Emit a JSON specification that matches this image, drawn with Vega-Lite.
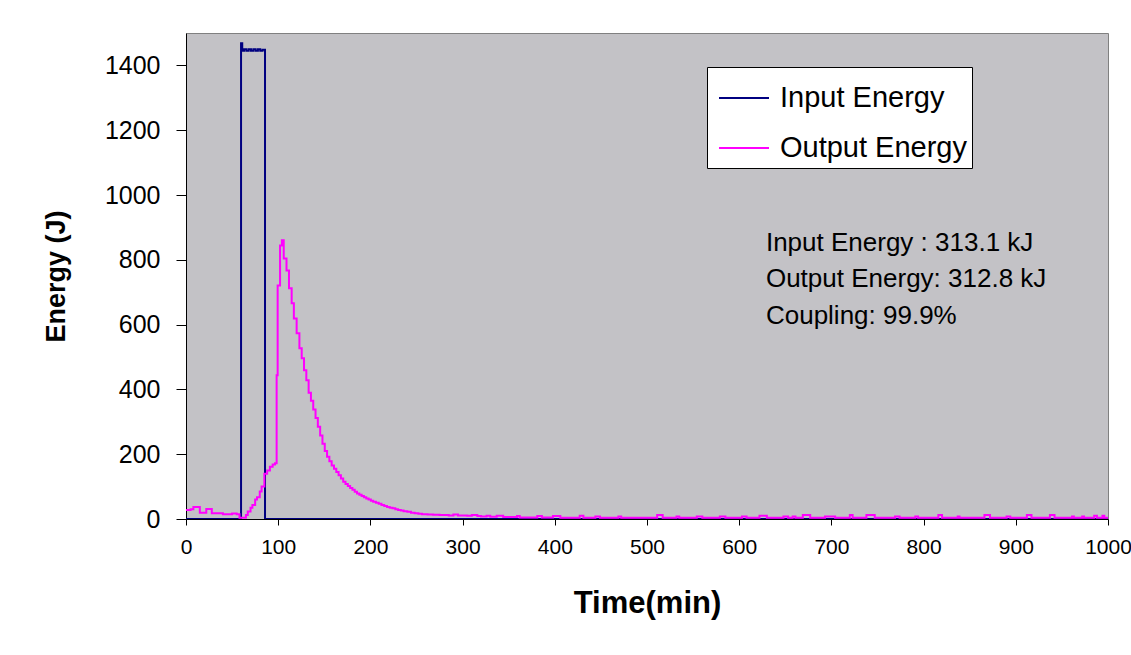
{
  "$schema": "https://vega.github.io/schema/vega-lite/v6.json",
  "width": 922,
  "height": 486,
  "autosize": {"type": "none"},
  "padding": {"left": 186, "top": 33, "right": 23, "bottom": 136},
  "background": "white",
  "config": {
    "view": {"fill": "#C3C2C6", "stroke": "#808080", "strokeWidth": 1},
    "font": "Liberation Sans"
  },
  "datasets": {
    "input": [
      {"t": 0, "e": 0}, {"t": 59.7, "e": 1468}, {"t": 61, "e": 1445}, {"t": 63, "e": 1450},
      {"t": 65.5, "e": 1445}, {"t": 68, "e": 1450}, {"t": 70.5, "e": 1445}, {"t": 73, "e": 1450},
      {"t": 75.5, "e": 1445}, {"t": 78, "e": 1450}, {"t": 80.5, "e": 1445}, {"t": 83, "e": 1448},
      {"t": 85.7, "e": 0}, {"t": 1000, "e": 0}
    ],
    "output": [
      {"t": 0, "e": 28}, {"t": 5, "e": 30}, {"t": 8, "e": 37}, {"t": 13, "e": 37}, {"t": 15, "e": 19},
      {"t": 20, "e": 19}, {"t": 22, "e": 31}, {"t": 26, "e": 31}, {"t": 28, "e": 18}, {"t": 35, "e": 18},
      {"t": 40, "e": 15}, {"t": 45, "e": 15}, {"t": 50, "e": 17}, {"t": 55, "e": 15}, {"t": 58, "e": 4},
      {"t": 62, "e": 4}, {"t": 65, "e": 12}, {"t": 67, "e": 23}, {"t": 70, "e": 35}, {"t": 72, "e": 43},
      {"t": 75, "e": 60}, {"t": 77, "e": 67}, {"t": 80, "e": 85}, {"t": 82, "e": 100}, {"t": 85, "e": 140},
      {"t": 88, "e": 150}, {"t": 91, "e": 161}, {"t": 94, "e": 168}, {"t": 96.5, "e": 172}, {"t": 98.3, "e": 444},
      {"t": 99.4, "e": 721}, {"t": 102, "e": 844}, {"t": 104, "e": 860}, {"t": 106, "e": 804}, {"t": 109, "e": 767},
      {"t": 111.7, "e": 712}, {"t": 114.6, "e": 666}, {"t": 117, "e": 619}, {"t": 120, "e": 573}, {"t": 123, "e": 527},
      {"t": 125.5, "e": 496}, {"t": 128, "e": 459}, {"t": 130.5, "e": 428}, {"t": 133, "e": 390}, {"t": 135.5, "e": 365},
      {"t": 138, "e": 338}, {"t": 140.5, "e": 312}, {"t": 143, "e": 285}, {"t": 145.5, "e": 258}, {"t": 148, "e": 232},
      {"t": 150.5, "e": 210}, {"t": 153, "e": 192}, {"t": 155.5, "e": 178}, {"t": 158, "e": 165}, {"t": 160.5, "e": 155},
      {"t": 163, "e": 145}, {"t": 165.5, "e": 135}, {"t": 168, "e": 125}, {"t": 170.5, "e": 115}, {"t": 173, "e": 108},
      {"t": 175.5, "e": 102}, {"t": 178, "e": 96}, {"t": 180.5, "e": 90}, {"t": 183, "e": 84}, {"t": 185.5, "e": 79},
      {"t": 188, "e": 75}, {"t": 190.5, "e": 71}, {"t": 193, "e": 67}, {"t": 195.5, "e": 63}, {"t": 198, "e": 60},
      {"t": 200.5, "e": 56}, {"t": 203, "e": 53}, {"t": 206, "e": 50}, {"t": 209, "e": 47}, {"t": 212, "e": 43},
      {"t": 215, "e": 40}, {"t": 218, "e": 37}, {"t": 221, "e": 35}, {"t": 224, "e": 33}, {"t": 227, "e": 30},
      {"t": 230, "e": 28}, {"t": 233, "e": 26}, {"t": 236, "e": 24}, {"t": 240, "e": 22}, {"t": 244, "e": 19},
      {"t": 248, "e": 18}, {"t": 252, "e": 16}, {"t": 256, "e": 15}, {"t": 262, "e": 14}, {"t": 268, "e": 13},
      {"t": 275, "e": 12}, {"t": 285, "e": 11}, {"t": 290, "e": 14}, {"t": 295, "e": 11}, {"t": 305, "e": 10},
      {"t": 310, "e": 12}, {"t": 316, "e": 9}, {"t": 320, "e": 8}, {"t": 326, "e": 10}, {"t": 330, "e": 7},
      {"t": 337, "e": 10}, {"t": 344, "e": 6}, {"t": 359, "e": 9}, {"t": 362, "e": 5}, {"t": 381, "e": 9},
      {"t": 386, "e": 5}, {"t": 398, "e": 9}, {"t": 406, "e": 4}, {"t": 427, "e": 10}, {"t": 431, "e": 4},
      {"t": 444, "e": 8}, {"t": 449, "e": 4}, {"t": 469, "e": 8}, {"t": 472, "e": 4}, {"t": 511, "e": 12},
      {"t": 517, "e": 4}, {"t": 532, "e": 8}, {"t": 535, "e": 4}, {"t": 554, "e": 8}, {"t": 560, "e": 4},
      {"t": 579, "e": 8}, {"t": 585, "e": 4}, {"t": 603, "e": 8}, {"t": 608, "e": 4}, {"t": 622, "e": 10},
      {"t": 630, "e": 4}, {"t": 648, "e": 8}, {"t": 653, "e": 4}, {"t": 658, "e": 8}, {"t": 661, "e": 4},
      {"t": 669, "e": 12}, {"t": 677, "e": 4}, {"t": 693, "e": 8}, {"t": 704, "e": 4}, {"t": 720, "e": 12},
      {"t": 723, "e": 4}, {"t": 738, "e": 12}, {"t": 747, "e": 4}, {"t": 769, "e": 8}, {"t": 774, "e": 4},
      {"t": 791, "e": 8}, {"t": 794, "e": 4}, {"t": 816, "e": 12}, {"t": 820, "e": 4}, {"t": 837, "e": 8},
      {"t": 839, "e": 4}, {"t": 866, "e": 12}, {"t": 872, "e": 4}, {"t": 890, "e": 8}, {"t": 894, "e": 4},
      {"t": 912, "e": 12}, {"t": 917, "e": 4}, {"t": 937, "e": 12}, {"t": 942, "e": 4}, {"t": 961, "e": 8},
      {"t": 963, "e": 4}, {"t": 972, "e": 8}, {"t": 974, "e": 4}, {"t": 985, "e": 10}, {"t": 988, "e": 4},
      {"t": 994, "e": 10}, {"t": 996, "e": 4}, {"t": 1000, "e": 4}
    ],
    "notes": [
      {"label": "Input Energy : 313.1 kJ", "t": 629, "e": 851},
      {"label": "Output Energy: 312.8 kJ", "t": 629, "e": 740},
      {"label": "Coupling: 99.9%", "t": 629, "e": 626}
    ]
  },
  "encoding": {
    "x": {
      "field": "t", "type": "quantitative",
      "scale": {"domain": [0, 1000], "nice": false, "zero": false},
      "axis": {
        "values": [0, 100, 200, 300, 400, 500, 600, 700, 800, 900, 1000],
        "format": "d",
        "title": "Time(min)", "titleFontSize": 31, "titleFontWeight": "bold", "titleColor": "black",
        "titlePadding": 31, "labelFontSize": 21, "labelColor": "black", "labelPadding": 11,
        "tickSize": 6, "tickColor": "black", "domainColor": "black", "grid": false,
        "labelFlush": false
      }
    },
    "y": {
      "field": "e", "type": "quantitative",
      "scale": {"domain": [0, 1500], "nice": false},
      "axis": {
        "values": [0, 200, 400, 600, 800, 1000, 1200, 1400],
        "format": "d",
        "title": "Energy (J)", "titleFontSize": 27, "titleFontWeight": "bold", "titleColor": "black",
        "titlePadding": 34, "labelFontSize": 25, "labelColor": "black", "labelPadding": 16,
        "tickSize": 10, "tickColor": "black", "domainColor": "black", "grid": false
      }
    }
  },
  "layer": [
    {
      "data": {"name": "input"},
      "mark": {"type": "line", "interpolate": "step-after", "strokeWidth": 2, "clip": true},
      "encoding": {
        "color": {
          "datum": "Input Energy", "type": "nominal",
          "scale": {"domain": ["Input Energy", "Output Energy"], "range": ["#000080", "#FF00FF"]},
          "legend": {
            "title": null, "orient": "none", "legendX": 521, "legendY": 34,
            "symbolType": "stroke", "symbolSize": 2500, "symbolStrokeWidth": 2,
            "symbolOffset": 6, "labelOffset": 10, "rowPadding": 9, "padding": 5,
            "labelFontSize": 29, "labelColor": "black", "labelLimit": 400,
            "labelExpr": "datum.label + '\u00a0\u00a0'",
            "fillColor": "white", "strokeColor": "black"
          }
        }
      }
    },
    {
      "data": {"name": "output"},
      "mark": {"type": "line", "interpolate": "step-after", "strokeWidth": 2, "clip": true},
      "encoding": {
        "color": {"datum": "Output Energy", "type": "nominal"}
      }
    },
    {
      "data": {"name": "notes"},
      "mark": {"type": "text", "align": "left", "baseline": "middle", "fontSize": 26, "color": "black"},
      "encoding": {
        "text": {"field": "label", "type": "nominal"}
      }
    }
  ]
}
